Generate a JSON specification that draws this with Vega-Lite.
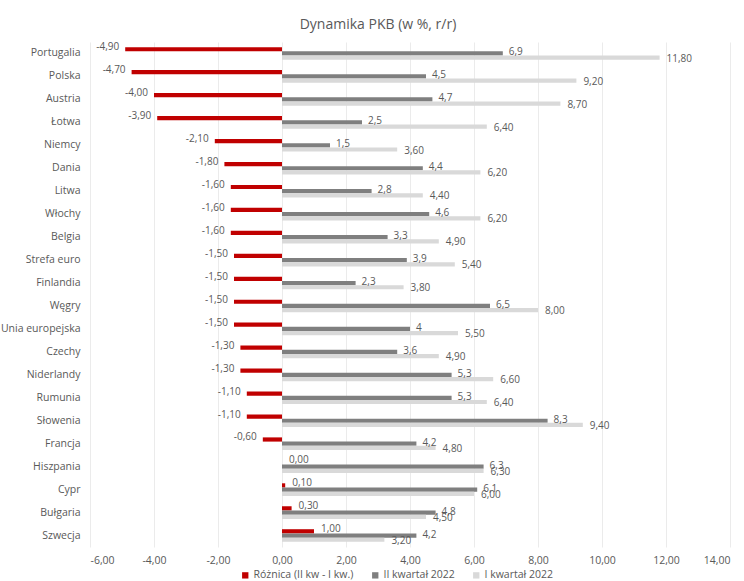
{
 "$schema": "https://vega.github.io/schema/vega-lite/v6.json",
 "width": 640,
 "height": 505,
 "autosize": {"type": "none"},
 "padding": {"left": 90, "top": 42, "right": 14, "bottom": 34},
 "background": "white",
 "title": {"text": "Dynamika PKB (w %, r/r)", "fontSize": 14, "fontWeight": "normal", "color": "#595959", "font": "Open Sans", "anchor": "middle", "frame": "group", "dx": -32, "offset": 10},
 "config": {
  "locale": {"number": {"decimal": ",", "thousands": " ", "grouping": [3], "currency": ["", " zł"], "minus": "-"}},
  "view": {"stroke": null},
  "font": "Open Sans"
 },
 "data": {"values": [
  {"kraj": "Portugalia", "seria": "Różnica (II kw - I kw.)", "wartosc": -4.9},
  {"kraj": "Portugalia", "seria": "II kwartał 2022", "wartosc": 6.9},
  {"kraj": "Portugalia", "seria": "I kwartał 2022", "wartosc": 11.8},
  {"kraj": "Polska", "seria": "Różnica (II kw - I kw.)", "wartosc": -4.7},
  {"kraj": "Polska", "seria": "II kwartał 2022", "wartosc": 4.5},
  {"kraj": "Polska", "seria": "I kwartał 2022", "wartosc": 9.2},
  {"kraj": "Austria", "seria": "Różnica (II kw - I kw.)", "wartosc": -4.0},
  {"kraj": "Austria", "seria": "II kwartał 2022", "wartosc": 4.7},
  {"kraj": "Austria", "seria": "I kwartał 2022", "wartosc": 8.7},
  {"kraj": "Łotwa", "seria": "Różnica (II kw - I kw.)", "wartosc": -3.9},
  {"kraj": "Łotwa", "seria": "II kwartał 2022", "wartosc": 2.5},
  {"kraj": "Łotwa", "seria": "I kwartał 2022", "wartosc": 6.4},
  {"kraj": "Niemcy", "seria": "Różnica (II kw - I kw.)", "wartosc": -2.1},
  {"kraj": "Niemcy", "seria": "II kwartał 2022", "wartosc": 1.5},
  {"kraj": "Niemcy", "seria": "I kwartał 2022", "wartosc": 3.6},
  {"kraj": "Dania", "seria": "Różnica (II kw - I kw.)", "wartosc": -1.8},
  {"kraj": "Dania", "seria": "II kwartał 2022", "wartosc": 4.4},
  {"kraj": "Dania", "seria": "I kwartał 2022", "wartosc": 6.2},
  {"kraj": "Litwa", "seria": "Różnica (II kw - I kw.)", "wartosc": -1.6},
  {"kraj": "Litwa", "seria": "II kwartał 2022", "wartosc": 2.8},
  {"kraj": "Litwa", "seria": "I kwartał 2022", "wartosc": 4.4},
  {"kraj": "Włochy", "seria": "Różnica (II kw - I kw.)", "wartosc": -1.6},
  {"kraj": "Włochy", "seria": "II kwartał 2022", "wartosc": 4.6},
  {"kraj": "Włochy", "seria": "I kwartał 2022", "wartosc": 6.2},
  {"kraj": "Belgia", "seria": "Różnica (II kw - I kw.)", "wartosc": -1.6},
  {"kraj": "Belgia", "seria": "II kwartał 2022", "wartosc": 3.3},
  {"kraj": "Belgia", "seria": "I kwartał 2022", "wartosc": 4.9},
  {"kraj": "Strefa euro", "seria": "Różnica (II kw - I kw.)", "wartosc": -1.5},
  {"kraj": "Strefa euro", "seria": "II kwartał 2022", "wartosc": 3.9},
  {"kraj": "Strefa euro", "seria": "I kwartał 2022", "wartosc": 5.4},
  {"kraj": "Finlandia", "seria": "Różnica (II kw - I kw.)", "wartosc": -1.5},
  {"kraj": "Finlandia", "seria": "II kwartał 2022", "wartosc": 2.3},
  {"kraj": "Finlandia", "seria": "I kwartał 2022", "wartosc": 3.8},
  {"kraj": "Węgry", "seria": "Różnica (II kw - I kw.)", "wartosc": -1.5},
  {"kraj": "Węgry", "seria": "II kwartał 2022", "wartosc": 6.5},
  {"kraj": "Węgry", "seria": "I kwartał 2022", "wartosc": 8.0},
  {"kraj": "Unia europejska", "seria": "Różnica (II kw - I kw.)", "wartosc": -1.5},
  {"kraj": "Unia europejska", "seria": "II kwartał 2022", "wartosc": 4.0},
  {"kraj": "Unia europejska", "seria": "I kwartał 2022", "wartosc": 5.5},
  {"kraj": "Czechy", "seria": "Różnica (II kw - I kw.)", "wartosc": -1.3},
  {"kraj": "Czechy", "seria": "II kwartał 2022", "wartosc": 3.6},
  {"kraj": "Czechy", "seria": "I kwartał 2022", "wartosc": 4.9},
  {"kraj": "Niderlandy", "seria": "Różnica (II kw - I kw.)", "wartosc": -1.3},
  {"kraj": "Niderlandy", "seria": "II kwartał 2022", "wartosc": 5.3},
  {"kraj": "Niderlandy", "seria": "I kwartał 2022", "wartosc": 6.6},
  {"kraj": "Rumunia", "seria": "Różnica (II kw - I kw.)", "wartosc": -1.1},
  {"kraj": "Rumunia", "seria": "II kwartał 2022", "wartosc": 5.3},
  {"kraj": "Rumunia", "seria": "I kwartał 2022", "wartosc": 6.4},
  {"kraj": "Słowenia", "seria": "Różnica (II kw - I kw.)", "wartosc": -1.1},
  {"kraj": "Słowenia", "seria": "II kwartał 2022", "wartosc": 8.3},
  {"kraj": "Słowenia", "seria": "I kwartał 2022", "wartosc": 9.4},
  {"kraj": "Francja", "seria": "Różnica (II kw - I kw.)", "wartosc": -0.6},
  {"kraj": "Francja", "seria": "II kwartał 2022", "wartosc": 4.2},
  {"kraj": "Francja", "seria": "I kwartał 2022", "wartosc": 4.8},
  {"kraj": "Hiszpania", "seria": "Różnica (II kw - I kw.)", "wartosc": 0.0},
  {"kraj": "Hiszpania", "seria": "II kwartał 2022", "wartosc": 6.3},
  {"kraj": "Hiszpania", "seria": "I kwartał 2022", "wartosc": 6.3},
  {"kraj": "Cypr", "seria": "Różnica (II kw - I kw.)", "wartosc": 0.1},
  {"kraj": "Cypr", "seria": "II kwartał 2022", "wartosc": 6.1},
  {"kraj": "Cypr", "seria": "I kwartał 2022", "wartosc": 6.0},
  {"kraj": "Bułgaria", "seria": "Różnica (II kw - I kw.)", "wartosc": 0.3},
  {"kraj": "Bułgaria", "seria": "II kwartał 2022", "wartosc": 4.8},
  {"kraj": "Bułgaria", "seria": "I kwartał 2022", "wartosc": 4.5},
  {"kraj": "Szwecja", "seria": "Różnica (II kw - I kw.)", "wartosc": 1.0},
  {"kraj": "Szwecja", "seria": "II kwartał 2022", "wartosc": 4.2},
  {"kraj": "Szwecja", "seria": "I kwartał 2022", "wartosc": 3.2}
 ]},
 "encoding": {
  "y": {"field": "kraj", "type": "nominal", "sort": null,
   "scale": {"paddingInner": 0.45, "paddingOuter": 0.225},
   "axis": {"title": null, "domain": false, "ticks": false, "grid": false, "labelPadding": 10, "labelFontSize": 10.5, "labelColor": "#595959", "labelFont": "Open Sans"}},
  "yOffset": {"field": "seria", "type": "nominal",
   "scale": {"domain": ["Różnica (II kw - I kw.)", "II kwartał 2022", "I kwartał 2022"], "paddingInner": 0, "paddingOuter": 0}},
  "x": {"field": "wartosc", "type": "quantitative",
   "scale": {"domain": [-6, 14], "nice": false, "zero": true},
   "axis": {"title": null, "domain": false, "ticks": false, "values": [-6, -4, -2, 0, 2, 4, 6, 8, 10, 12, 14], "format": ".2f", "labelPadding": 8, "gridColor": "#ebebeb", "labelColor": "#595959", "labelFontSize": 10.5, "labelFont": "Open Sans"}}
 },
 "layer": [
  {
   "mark": {"type": "bar"},
   "encoding": {
    "color": {"field": "seria", "type": "nominal",
     "scale": {"domain": ["Różnica (II kw - I kw.)", "II kwartał 2022", "I kwartał 2022"], "range": ["#C00000", "#7F7F7F", "#D9D9D9"]},
     "legend": {"orient": "none", "direction": "horizontal", "legendX": 150, "legendY": 528, "title": null, "symbolType": "square", "symbolSize": 40, "symbolStrokeWidth": 0, "labelFontSize": 10.5, "labelColor": "#595959", "labelFont": "Open Sans", "columnPadding": 16, "labelOffset": 3}}
   }
  },
  {
   "transform": [{"filter": "datum.seria === 'Różnica (II kw - I kw.)' && datum.wartosc < 0"}],
   "mark": {"type": "text", "align": "right", "baseline": "middle", "dx": -6, "dy": -2, "fontSize": 10, "color": "#595959", "font": "Open Sans"},
   "encoding": {"text": {"field": "wartosc", "type": "quantitative", "format": ".2f"}}
  },
  {
   "transform": [{"filter": "datum.seria === 'Różnica (II kw - I kw.)' && datum.wartosc >= 0"}],
   "mark": {"type": "text", "align": "left", "baseline": "middle", "dx": 7, "dy": -2, "fontSize": 10, "color": "#595959", "font": "Open Sans"},
   "encoding": {"text": {"field": "wartosc", "type": "quantitative", "format": ".2f"}}
  },
  {
   "transform": [{"filter": "datum.seria === 'II kwartał 2022'"}],
   "mark": {"type": "text", "align": "left", "baseline": "middle", "dx": 6, "dy": -1, "fontSize": 10, "color": "#595959", "font": "Open Sans"},
   "encoding": {"text": {"field": "wartosc", "type": "quantitative", "format": ".1~f"}}
  },
  {
   "transform": [{"filter": "datum.seria === 'I kwartał 2022'"}],
   "mark": {"type": "text", "align": "left", "baseline": "middle", "dx": 7, "dy": 1, "fontSize": 10, "color": "#595959", "font": "Open Sans"},
   "encoding": {"text": {"field": "wartosc", "type": "quantitative", "format": ".2f"}}
  }
 ]
}
